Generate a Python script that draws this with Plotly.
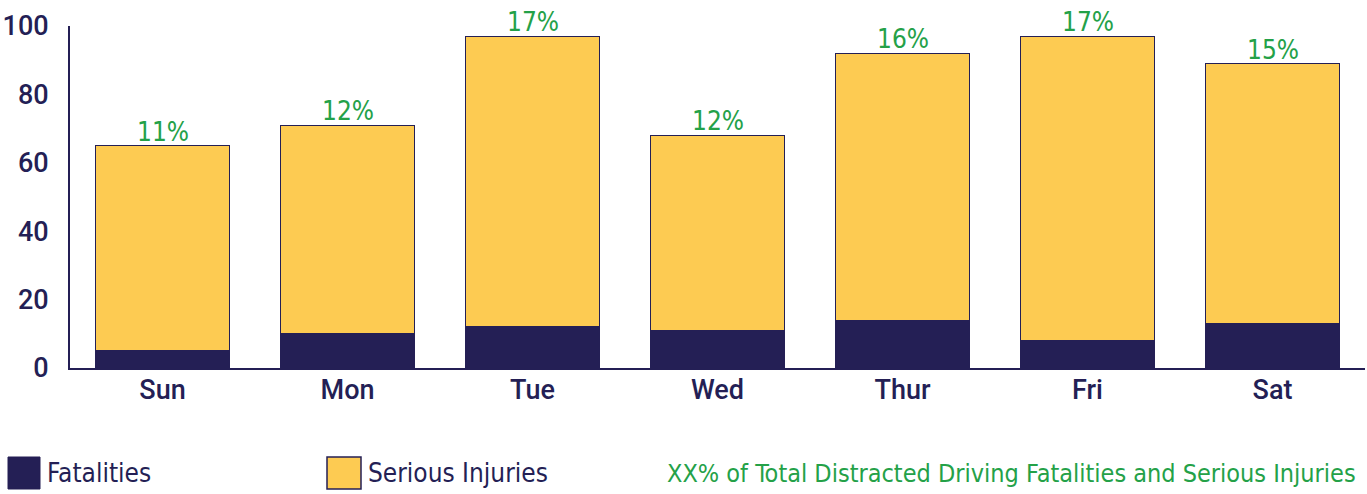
import plotly.graph_objects as go

days = ["Sun", "Mon", "Tue", "Wed", "Thur", "Fri", "Sat"]
fatalities = [5, 10, 12, 11, 14, 8, 13]
serious_injuries = [60, 61, 85, 57, 78, 89, 76]
pct_labels = ["11%", "12%", "17%", "12%", "16%", "17%", "15%"]
y_ticks = [0, 20, 40, 60, 80, 100]

NAVY = "#241f55"
YELLOW = "#fdcb52"
GREEN = "#24a148"
W, H = 1367, 494
ML, MR, MT, MB = 70, 2, 26, 126
PW, PH = W - ML - MR, H - MT - MB

def px_x(x):
    return (x - ML) / PW

def px_y(y):
    return (H - MB - y) / PH

NARROW = "DejaVu Sans Condensed, Roboto, sans-serif"
BASE = "Roboto, Liberation Sans, sans-serif"

fig = go.Figure()
fig.add_trace(go.Bar(x=days, y=fatalities, name="Fatalities",
                     marker=dict(color=NAVY, line=dict(color=NAVY, width=1))))
fig.add_trace(go.Bar(x=days, y=serious_injuries, name="Serious Injuries",
                     marker=dict(color=YELLOW, line=dict(color=NAVY, width=1))))

for d, f, s, lbl in zip(days, fatalities, serious_injuries, pct_labels):
    fig.add_annotation(x=d, y=f + s, text=lbl, showarrow=False, yanchor="bottom",
                       yshift=-3, font=dict(family=NARROW, size=26, color=GREEN))

# Legend (manual)
fig.add_shape(type="rect", xref="paper", yref="paper",
              x0=px_x(8), x1=px_x(40), y0=px_y(489), y1=px_y(457),
              fillcolor=NAVY, line=dict(color=NAVY, width=1))
fig.add_shape(type="rect", xref="paper", yref="paper",
              x0=px_x(327), x1=px_x(361), y0=px_y(489), y1=px_y(457),
              fillcolor=YELLOW, line=dict(color=NAVY, width=1.5))
fig.add_annotation(xref="paper", yref="paper", x=px_x(45), y=px_y(473),
                   xanchor="left", yanchor="middle", showarrow=False,
                   text="Fatalities", font=dict(family=NARROW, size=26, color=NAVY))
fig.add_annotation(xref="paper", yref="paper", x=px_x(366), y=px_y(473),
                   xanchor="left", yanchor="middle", showarrow=False,
                   text="Serious Injuries", font=dict(family=NARROW, size=26, color=NAVY))
fig.add_annotation(xref="paper", yref="paper", x=px_x(1358), y=px_y(473),
                   xanchor="right", yanchor="middle", showarrow=False,
                   text="XX% of Total Distracted Driving Fatalities and Serious Injuries",
                   font=dict(family=NARROW, size=25, color=GREEN))

fig.update_layout(
    width=W, height=H,
    margin=dict(l=ML, r=MR, t=MT, b=MB, pad=0),
    barmode="stack", bargap=0.28,
    plot_bgcolor="white", paper_bgcolor="white",
    showlegend=False,
    xaxis=dict(showline=True, linecolor=NAVY, linewidth=2, showgrid=False,
               ticks="", ticklabelstandoff=-3,
               tickfont=dict(family=BASE, size=27, color=NAVY, weight=500)),
    yaxis=dict(range=[0, 100], showline=True, linecolor=NAVY, linewidth=2,
               showgrid=False, zeroline=False, tickvals=y_ticks, ticks="",
               ticklabelstandoff=14,
               tickfont=dict(family=BASE, size=27, color=NAVY, weight=500)),
)

fig.write_html("out.html", config={"displayModeBar": False},
               post_script="document.body.style.margin='0';document.body.style.overflow='hidden';")
